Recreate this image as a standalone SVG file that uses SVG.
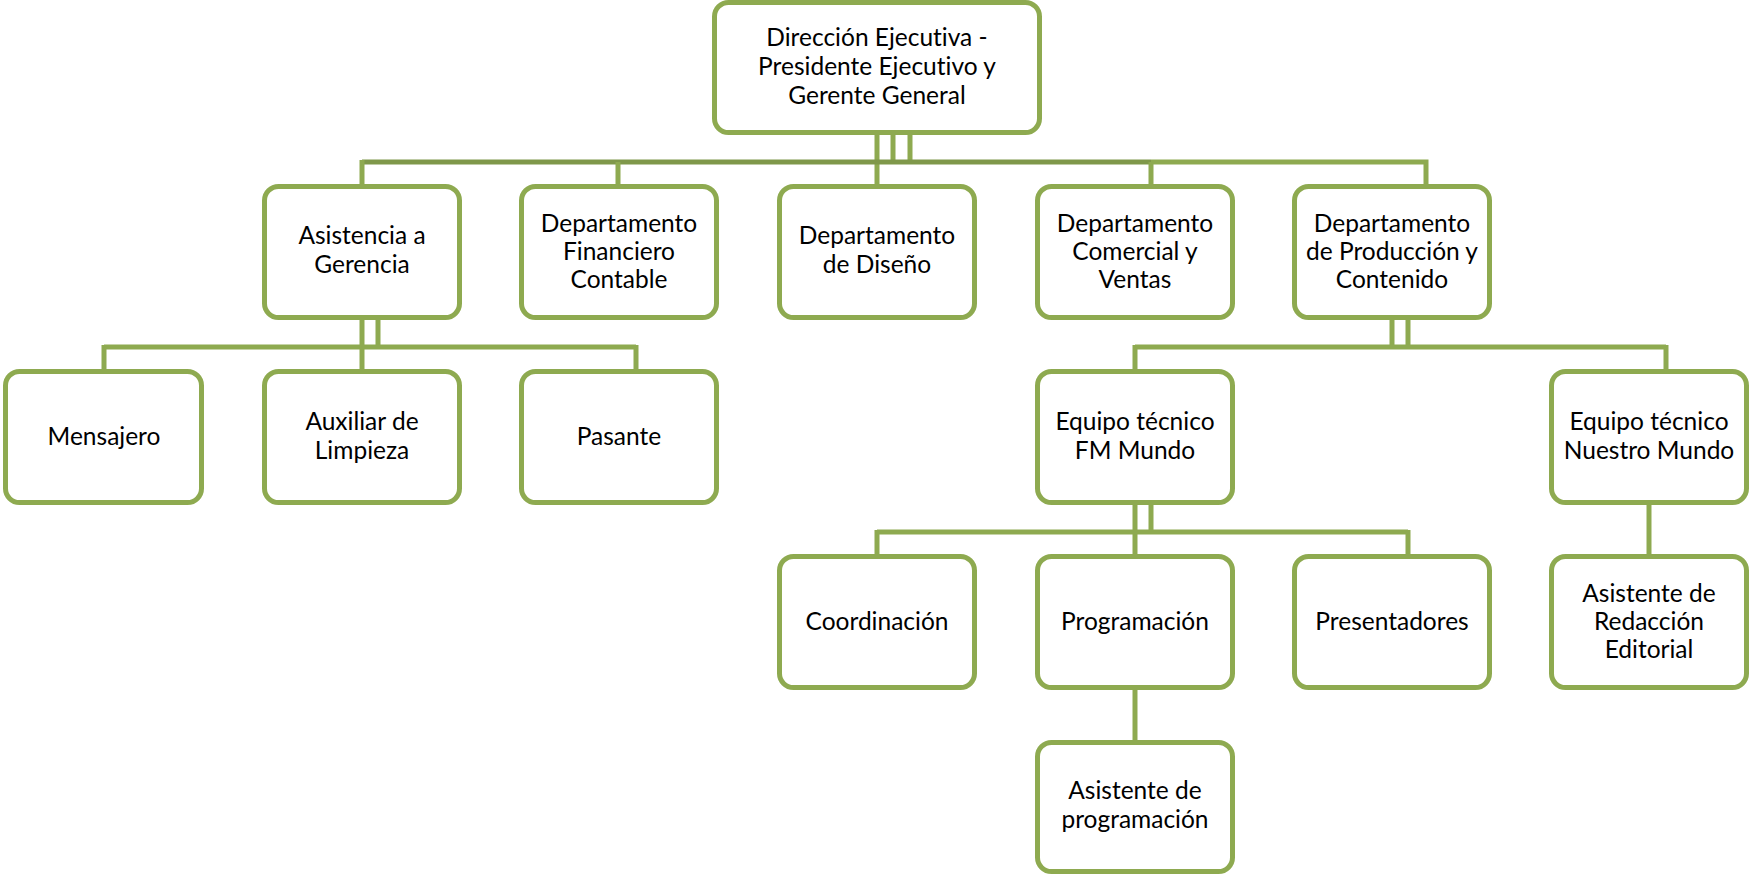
<svg xmlns="http://www.w3.org/2000/svg" width="1750" height="874" viewBox="0 0 1750 874">
<style>
.box{fill:#ffffff;stroke:#8eaa50;stroke-width:5}
.c{fill:none;stroke:#8eaa50;stroke-width:5;stroke-linecap:butt}
.cd{fill:none;stroke:#7f984a;stroke-width:5}
text{font-family:Lato,"Open Sans","Liberation Sans",sans-serif;font-size:24.5px;fill:#000;text-anchor:middle;font-variant-ligatures:none;font-feature-settings:"liga" 0,"dlig" 0}
</style>
<rect width="1750" height="874" fill="#ffffff"/>
<g id="connectors">
<path class="c" d="M877 135V186 M893 135V162 M910 135V162"/>
<path class="cd" d="M362 162H1151"/>
<path class="c" d="M1151 162H1426V186 M362 160V186 M618 162V186 M1151 162V186"/>
<path class="c" d="M362 320V371 M378 320V347 M104 347H636 M104 345V371 M636 345V371"/>
<path class="c" d="M1392 320V347 M1408 320V347 M1135 347H1666 M1135 345V371 M1666 345V371"/>
<path class="c" d="M1135 503V556 M1151 503V532 M877 532H1408 M877 530V556 M1408 530V556"/>
<path class="c" d="M1135 689V742"/>
<path class="c" d="M1649 503V556"/>
</g>
<g id="n-direccion"><rect class="box" x="714.5" y="2.5" width="325" height="130" rx="14"/><text x="877" y="46">Dirección Ejecutiva -</text><text x="877" y="75">Presidente Ejecutivo y</text><text x="877" y="104">Gerente General</text></g>
<g id="n-asistencia"><rect class="box" x="264.5" y="186.5" width="195" height="131" rx="14"/><text x="362" y="244">Asistencia a</text><text x="362" y="273">Gerencia</text></g>
<g id="n-financiero"><rect class="box" x="521.5" y="186.5" width="195" height="131" rx="14"/><text x="619" y="232">Departamento</text><text x="619" y="260">Financiero</text><text x="619" y="288">Contable</text></g>
<g id="n-diseno"><rect class="box" x="779.5" y="186.5" width="195" height="131" rx="14"/><text x="877" y="244">Departamento</text><text x="877" y="273">de Diseño</text></g>
<g id="n-comercial"><rect class="box" x="1037.5" y="186.5" width="195" height="131" rx="14"/><text x="1135" y="232">Departamento</text><text x="1135" y="260">Comercial y</text><text x="1135" y="288">Ventas</text></g>
<g id="n-produccion"><rect class="box" x="1294.5" y="186.5" width="195" height="131" rx="14"/><text x="1392" y="232">Departamento</text><text x="1392" y="260">de Producción y</text><text x="1392" y="288">Contenido</text></g>
<g id="n-mensajero"><rect class="box" x="5.5" y="371.5" width="196" height="131" rx="14"/><text x="104" y="445">Mensajero</text></g>
<g id="n-auxiliar"><rect class="box" x="264.5" y="371.5" width="195" height="131" rx="14"/><text x="362" y="430">Auxiliar de</text><text x="362" y="459">Limpieza</text></g>
<g id="n-pasante"><rect class="box" x="521.5" y="371.5" width="195" height="131" rx="14"/><text x="619" y="445">Pasante</text></g>
<g id="n-fm"><rect class="box" x="1037.5" y="371.5" width="195" height="131" rx="14"/><text x="1135" y="430">Equipo técnico</text><text x="1135" y="459">FM Mundo</text></g>
<g id="n-nuestro"><rect class="box" x="1551.5" y="371.5" width="195" height="131" rx="14"/><text x="1649" y="430">Equipo técnico</text><text x="1649" y="459">Nuestro Mundo</text></g>
<g id="n-coordinacion"><rect class="box" x="779.5" y="556.5" width="195" height="131" rx="14"/><text x="877" y="630">Coordinación</text></g>
<g id="n-programacion"><rect class="box" x="1037.5" y="556.5" width="195" height="131" rx="14"/><text x="1135" y="630">Programación</text></g>
<g id="n-presentadores"><rect class="box" x="1294.5" y="556.5" width="195" height="131" rx="14"/><text x="1392" y="630">Presentadores</text></g>
<g id="n-redaccion"><rect class="box" x="1551.5" y="556.5" width="195" height="131" rx="14"/><text x="1649" y="602">Asistente de</text><text x="1649" y="630">Redacción</text><text x="1649" y="658">Editorial</text></g>
<g id="n-asist-prog"><rect class="box" x="1037.5" y="742.5" width="195" height="129" rx="14"/><text x="1135" y="799">Asistente de</text><text x="1135" y="828">programación</text></g>
</svg>
